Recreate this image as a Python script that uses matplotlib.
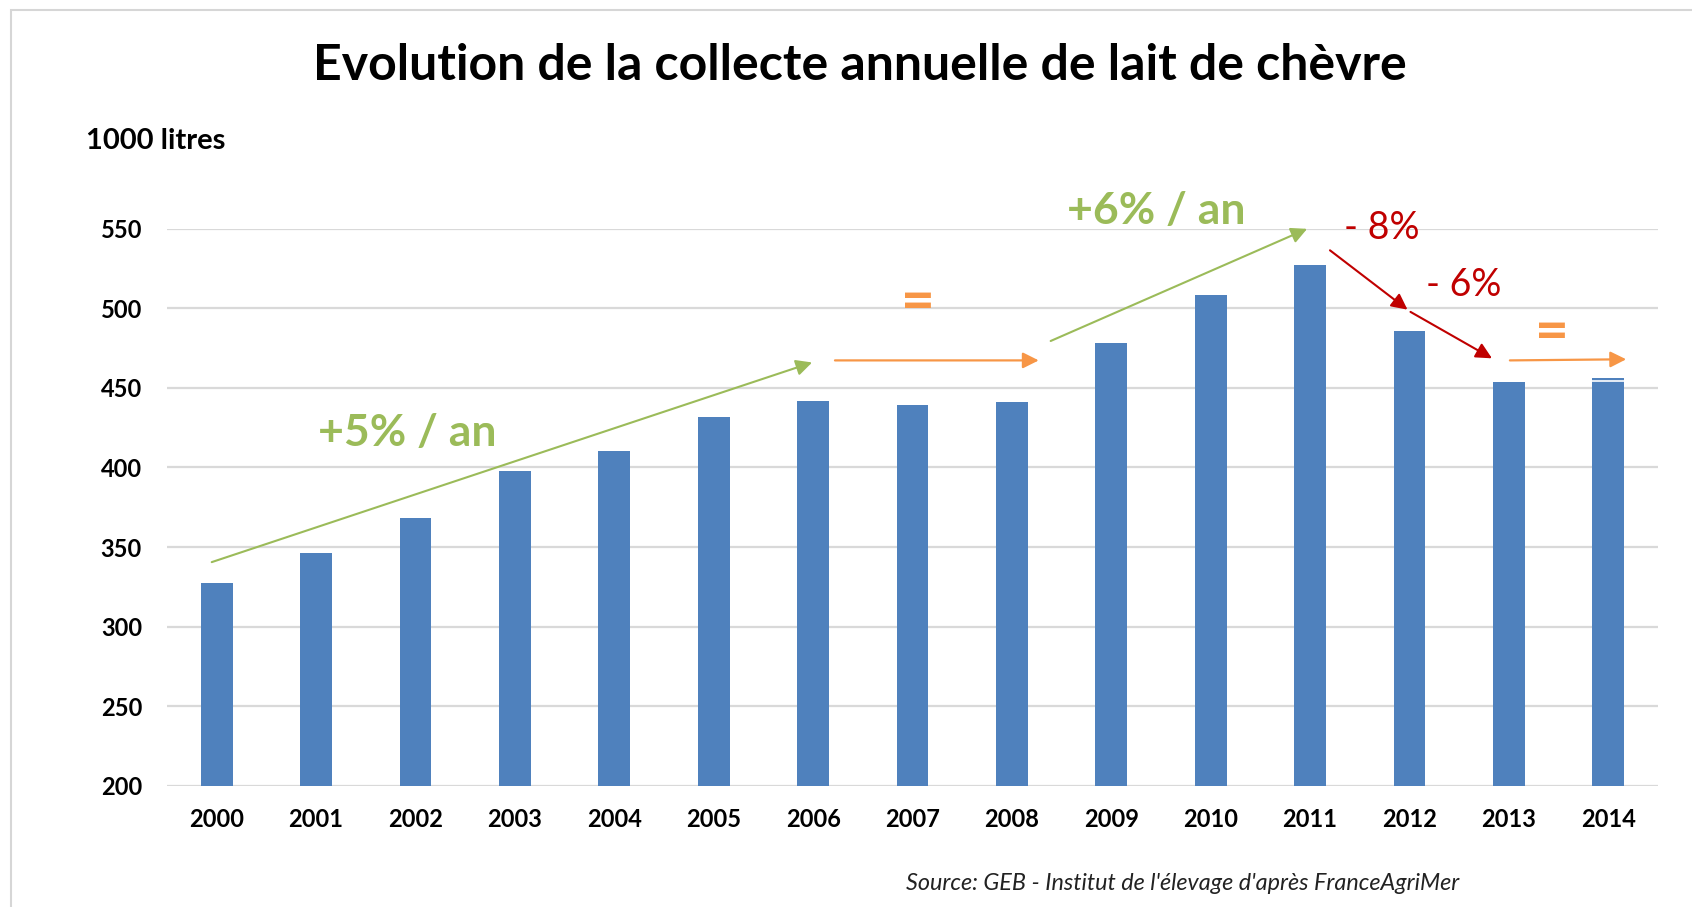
"""Evolution de la collecte annuelle de lait de chevre (bar chart with trend arrows)."""

import matplotlib

matplotlib.use("Agg")
import matplotlib.pyplot as plt
from matplotlib.patches import Rectangle

years = [str(y) for y in range(2000, 2015)]
volumes = [327.5, 346.5, 368, 397.5, 410.5, 432, 442, 439, 441, 478, 508.5, 527.5, 485.5, 454, 456.5]
y_ticks = [200, 250, 300, 350, 400, 450, 500, 550]
# the 2014 bar in the source shows a thin white seam at this level
seam_2014 = 454.5

# trend arrows: (x0, y0, x1, y1, colour, line width)
trend_arrows = [
    (-0.05, 340.5, 5.99, 466.0, "#9BBB59", 1.5),
    (6.22, 467.3, 8.27, 467.3, "#F79646", 1.6),
    (8.39, 479.5, 10.97, 550.0, "#9BBB59", 1.5),
    (11.2, 536.5, 11.98, 499.2, "#C00000", 1.5),
    (12.01, 497.8, 12.83, 468.6, "#C00000", 1.5),
    (13.01, 467.3, 14.18, 468.0, "#F79646", 1.6),
]
# labels: (x, y, text, colour, bold, size)
trend_labels = [
    (1.92, 421.5, "+5% / an", "#9BBB59", True, 32),
    (9.45, 561.5, "+6% / an", "#9BBB59", True, 32),
    (11.72, 550.5, "- 8%", "#C00000", False, 27),
    (12.55, 514.8, "- 6%", "#C00000", False, 27),
    (7.05, 503.0, "=", "#F79646", True, 42),
    (13.43, 484.0, "=", "#F79646", True, 42),
]

BAR = "#4F81BD"
GRID = "#D9D9D9"
FONT = ["Lato", "DejaVu Sans"]
plt.rcParams["font.family"] = FONT

fig = plt.figure(figsize=(16.92, 9.07), dpi=100)
fig.patches.append(Rectangle((0.0065, -0.1), 1.1, 1.089, transform=fig.transFigure,
                             fill=False, edgecolor="#D6D6D6", linewidth=1.5))

ax = fig.add_axes([0.0987, 0.1338, 0.8812, 0.6139])
x = list(range(len(years)))
ax.bar(x, [v - 200 for v in volumes], bottom=200, width=0.32, color=BAR, zorder=3)
ax.hlines(seam_2014, x[-1] - 0.16, x[-1] + 0.16, color="white", linewidth=1.2, zorder=4)
ax.set_xlim(-0.5, len(years) - 0.5)
ax.set_ylim(200, 550)
ax.set_yticks(y_ticks)
ax.set_xticks(x, years)
ax.grid(axis="y", color=GRID, linewidth=1.6, zorder=0)
for spine in ax.spines.values():
    spine.set_visible(False)
ax.tick_params(axis="both", length=0, labelsize=17)
ax.tick_params(axis="x", pad=16)
ax.tick_params(axis="y", pad=18)
for lab in ax.get_xticklabels() + ax.get_yticklabels():
    lab.set_fontweight("bold")

for x0, y0, x1, y1, color, lw in trend_arrows:
    ax.annotate("", xy=(x1, y1), xytext=(x0, y0), annotation_clip=False,
                arrowprops=dict(arrowstyle="-|>", color=color, lw=lw,
                                mutation_scale=24, shrinkA=0, shrinkB=0), zorder=5)
for tx, ty, text, color, bold, size in trend_labels:
    ax.text(tx, ty, text, color=color, fontsize=size, ha="center", va="center",
            fontweight="bold" if bold else "normal", clip_on=False, zorder=6)

fig.text(0.508, 0.928, "Evolution de la collecte annuelle de lait de chèvre",
         ha="center", va="center", fontsize=36, fontweight="bold")
fig.text(0.051, 0.8445, "1000 litres", ha="left", va="center", fontsize=21, fontweight="bold")
fig.text(0.699, 0.0254, "Source: GEB - Institut de l'élevage d'après FranceAgriMer",
         ha="center", va="center", fontsize=16.8, style="italic", color="#222222")

fig.savefig("out.png", dpi=100)
